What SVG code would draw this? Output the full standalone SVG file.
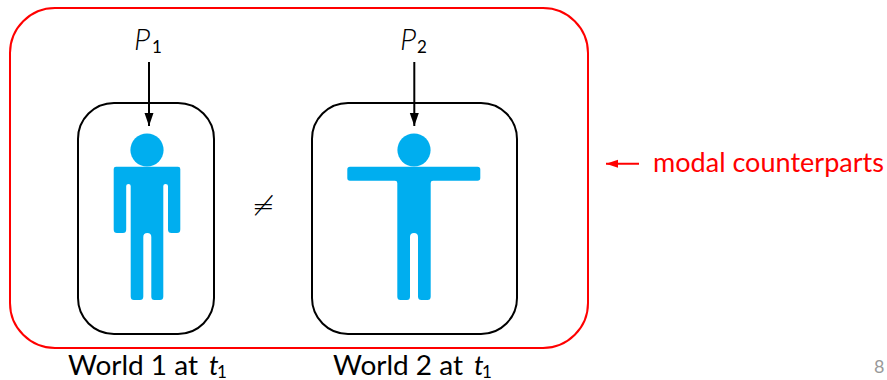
<svg xmlns="http://www.w3.org/2000/svg" width="887" height="380" viewBox="0 0 887 380">
<style>
text{font-family:"Lato","Liberation Sans",sans-serif;fill:#000}
.lab{font-size:27px}
.it{font-style:italic}
.p{font-size:30px;font-weight:300}
.sub{font-size:17px}
.box{fill:none;stroke:#000;stroke-width:2}
.fig{fill:#00aeef}
.neq{font-family:"DejaVu Sans",sans-serif;font-size:27px;font-weight:200}
</style>
<defs>
<marker id="ah" markerUnits="userSpaceOnUse" markerWidth="13" markerHeight="14" refX="13" refY="7" orient="auto"><path d="M0 2.500 L13 7 L0 11.500 Z" fill="#000"/></marker>
<marker id="ahr" markerUnits="userSpaceOnUse" markerWidth="13" markerHeight="14" refX="12" refY="7" orient="auto"><path d="M0 3 L12 7 L0 11 Z" transform="translate(0 0)" fill="#f00"/></marker>
</defs>
<g id="counterparts-frame"><rect x="10" y="8" width="578" height="340" rx="45" ry="45" fill="none" stroke="#f00" stroke-width="2"/></g>
<g id="world1">
<rect class="box" x="78" y="103" width="136" height="231" rx="36" ry="36"/>
<g class="fig">
<circle cx="147" cy="150" r="16.6"/>
<path d="M116 166.7H178Q180.300 166.700 180.300 169V229.500Q180.300 233 177 233H171.500Q168 233 168 229.500V186Q168 184 165.500 184Q163.300 184 163.300 186V296.500Q163.300 300 160 300H154.500Q151.300 300 151.300 296.500V237Q151.300 233 147.300 233Q143.300 233 143.300 237V296.500Q143.300 300 140 300H134Q130.700 300 130.700 296.500V186Q130.700 184 128.500 184Q126.200 184 126.200 186V229.500Q126.200 233 123 233H117Q113.700 233 113.700 229.500V169Q113.700 166.700 116 166.700Z"/>
</g>
</g>
<g id="world2">
<rect class="box" x="312" y="103" width="205" height="231" rx="36" ry="36"/>
<g class="fig">
<circle cx="414" cy="150" r="16.6"/>
<path d="M350 166.700H477.500Q480.300 166.700 480.300 169.500V178Q480.300 180.700 477.500 180.700H433Q430.700 180.700 430.700 183V296.500Q430.700 300 427.500 300H421.500Q418 300 418 296.500V237Q418 233 414 233Q410 233 410 237V296.500Q410 300 407 300H400.500Q397.300 300 397.300 296.500V183Q397.300 180.700 395 180.700H350Q347.300 180.700 347.300 178V169.500Q347.300 166.700 350 166.700Z"/>
</g>
</g>
<g id="connectors">
<line x1="149" y1="62" x2="149" y2="126" stroke="#000" stroke-width="2" marker-end="url(#ah)"/>
<line x1="414.300" y1="62" x2="414.300" y2="126" stroke="#000" stroke-width="2" marker-end="url(#ah)"/>
<line x1="639" y1="163.700" x2="606" y2="163.700" stroke="#f00" stroke-width="2" marker-end="url(#ahr)"/>
</g>
<g id="labels">
<text class="p it" x="134" y="50">P</text><text class="sub" x="152" y="53">1</text>
<text class="p it" x="400" y="50">P</text><text class="sub" x="417" y="53">2</text>
<text class="neq" x="252" y="215">≠</text>
<text class="lab" x="68" y="375" textLength="130" lengthAdjust="spacingAndGlyphs">World 1 at</text><text class="lab it" x="209" y="375">t</text><text class="sub" x="217" y="378">1</text>
<text class="lab" x="333" y="375" textLength="130" lengthAdjust="spacingAndGlyphs">World 2 at</text><text class="lab it" x="474" y="375">t</text><text class="sub" x="482" y="378">1</text>
<text class="lab" style="fill:#f00" x="653" y="172" textLength="231" lengthAdjust="spacingAndGlyphs">modal counterparts</text>
<text x="874" y="373" font-size="18" style="fill:#999">8</text>
</g>
</svg>
